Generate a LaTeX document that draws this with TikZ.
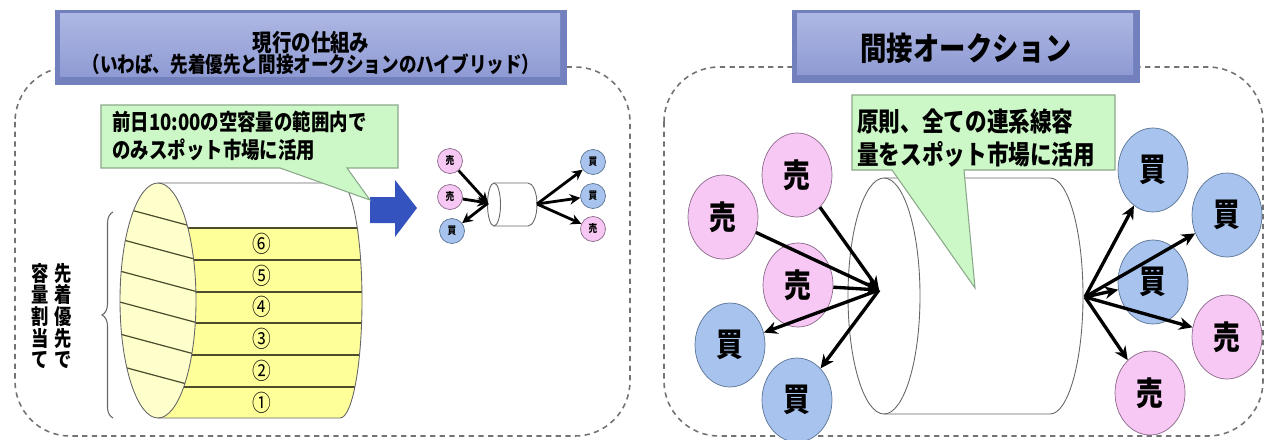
\documentclass[tikz,border=0pt]{standalone}
\usepackage{fontspec}
\setmainfont{Noto Sans CJK JP}[FakeStretch=0.82]
\usetikzlibrary{shapes.geometric,arrows.meta,decorations.pathreplacing}
\definecolor{ttledge}{HTML}{7380BE}
\definecolor{ttltop}{HTML}{AEB7E3}
\definecolor{ttlbot}{HTML}{8E9AD3}
\definecolor{urifill}{HTML}{F8C8F4}
\definecolor{uriedge}{HTML}{8B6A8B}
\definecolor{kaifill}{HTML}{A8C4EE}
\definecolor{kaiedge}{HTML}{5B7494}
\definecolor{callfill}{HTML}{CCF7C6}
\definecolor{calledge}{HTML}{8AA88A}
\definecolor{bandfill}{HTML}{FFFF99}
\definecolor{facefill}{HTML}{FFFFCC}
\definecolor{bandline}{HTML}{4D4D2E}
\definecolor{yaji}{HTML}{3553BE}
\tikzstyle{waku}=[draw=black!55,dash pattern=on 3pt off 2.5pt,line width=0.9pt,rounded corners=1.1cm]
\tikzstyle{ttlface}=[top color=ttltop,bottom color=ttlbot,draw=none]
\tikzstyle{ttltxt}=[inner sep=0pt,align=center,font=\bfseries]
\tikzstyle{fukidashi}=[fill=callfill,draw=calledge,line width=0.6pt]
\tikzstyle{setsumei}=[anchor=west,align=left,inner sep=0pt,font=\bfseries]
\tikzstyle{cyl}=[draw=black!60,line width=0.5pt]
\tikzstyle{band}=[draw=bandline,line width=0.7pt]
\tikzstyle{maru}=[inner sep=0pt,font=\fontsize{13}{13}\selectfont]
\tikzstyle{uri}=[ellipse,draw=uriedge,fill=urifill,inner sep=0pt,minimum width=1.4cm,minimum height=1.68cm,font=\fontsize{18.5}{18.5}\selectfont\bfseries]
\tikzstyle{kai}=[uri,draw=kaiedge,fill=kaifill]
\tikzstyle{suri}=[circle,draw=uriedge,fill=urifill,inner sep=0pt,minimum size=0.5cm,font=\fontsize{6}{6}\selectfont\bfseries]
\tikzstyle{skai}=[suri,draw=kaiedge,fill=kaifill]
\tikzstyle{ya}=[-{Stealth[length=2.7mm,width=2.5mm]},line width=1.9pt]
\tikzstyle{sya}=[-{Stealth[length=2.1mm,width=2.1mm]},line width=1.6pt]
\tikzstyle{tate}=[align=center,inner sep=0pt,font=\fontsize{12}{12.3}\selectfont\bfseries]
\newcommand\marunum[1]{\ifcase#1\or ①\or ②\or ③\or ④\or ⑤\or ⑥\fi}

\begin{document}
\begin{tikzpicture}[x=0.02cm,y=-0.02cm]
\useasboundingbox (0,0) rectangle (1266,439);
% frames
\draw[waku] (15,67) rectangle (630,436);
\draw[waku] (664,67) rectangle (1263,436);
% titles
\fill[ttledge] (55,10) rectangle (567,85);
\shade[ttlface] (60,14) rectangle (560,77);
\node[ttltxt] (ttlL) at (311,53)
  {{\fontsize{13.5}{16}\selectfont 現行の仕組み}\\[-1pt]{\fontsize{12.2}{14}\selectfont （いわば、先着優先と間接オークションのハイブリッド）}};
\fill[ttledge] (792,10) rectangle (1140,83);
\shade[ttlface] (797,14) rectangle (1133,75);
\node[ttltxt,font=\fontsize{18.3}{18.3}\selectfont\bfseries] (ttlR) at (966,48) {間接オークション};

% --- left: first come first served
\begin{scope}
\clip (158,183) -- (340,183) arc[start angle=-90,end angle=90,x radius=22,y radius=117.5] -- (158,418) -- cycle;
\fill[bandfill] (150,228) rectangle (370,418);
\foreach \y in {228,260,292,323,355,387} \draw[band] (150,\y) -- (370,\y);
\end{scope}
\fill[facefill] (158,300.5) ellipse[x radius=38,y radius=117.5];
\begin{scope}
\clip (158,300.5) ellipse[x radius=38,y radius=117.5];
\foreach \y in {228,260,292,323,355,387} \draw[band] (116,\y-22) -- (198,\y);
\end{scope}
\draw[cyl] (158,300.5) ellipse[x radius=38,y radius=117.5];
\draw[cyl] (158,183) -- (340,183) arc[start angle=-90,end angle=90,x radius=22,y radius=117.5] -- (158,418);
\foreach \n/\y in {1/403,2/371,3/339,4/307,5/276,6/244}
  \node[maru] (m\n) at (262,\y) {\marunum{\n}};
\draw[black!60,line width=0.6pt,decorate,decoration={brace,amplitude=0.22cm}] (113,418) -- (113,212);
\node[tate] (tate1) at (63,316) {先\\着\\優\\先\\で};
\node[tate] (tate2) at (40,316) {容\\量\\割\\当\\て};

% blue arrow
\fill[yaji] (370,197) -- (395,197) -- (395,180) -- (417,208) -- (395,237) -- (395,223) -- (370,223) -- cycle;

% small auction
\draw[cyl,fill=white] (494,183) -- (528,183) arc[start angle=-90,end angle=90,x radius=9,y radius=21.5] -- (494,226);
\draw[cyl,fill=white] (494,204.5) ellipse[x radius=6.5,y radius=21.5];
\node[suri] (ls1) at (450,161) {売};
\node[suri] (ls2) at (450,197) {売};
\node[skai] (lb1) at (452,231) {買};
\node[skai] (rb1) at (593,162) {買};
\node[skai] (rb2) at (593,196) {買};
\node[suri] (rs1) at (593,229) {売};
\coordinate (shL) at (488,203);
\coordinate (shR) at (537,204);
\draw[sya] (ls1) -- (shL);
\draw[sya] (ls2) -- (shL);
\draw[sya] (shL) -- (lb1);
\draw[sya] (shR) -- (rb1);
\draw[sya] (shR) -- (rb2);
\draw[sya] (shR) -- (rs1);

% callout
\draw[fukidashi] (101,105) -- (398,105) -- (398,168) -- (347,168) -- (370,200) -- (280,168) -- (101,168) -- cycle;
\node[setsumei,font=\fontsize{12.8}{16}\selectfont\bfseries] (cL) at (112,136) {前日10:00の空容量の範囲内で\\のみスポット市場に活用};

% --- right: implicit auction
\draw[cyl] (884,178) -- (1050,178) arc[start angle=-90,end angle=90,x radius=33,y radius=118] -- (884,414);
\draw[cyl] (884,296) ellipse[x radius=36,y radius=118];
\node[uri] (uL1) at (797,175) {売};
\node[uri] (uL2) at (723,217) {売};
\node[uri] (uL3) at (798,285) {売};
\node[kai] (kL1) at (730,345) {買};
\node[kai] (kL2) at (797,400) {買};
\node[kai] (kR1) at (1153,170) {買};
\node[kai] (kR2) at (1227,215) {買};
\node[kai] (kR3) at (1153,282) {買};
\node[uri] (uR1) at (1227,337) {売};
\node[uri] (uR2) at (1150,393) {売};
\coordinate (hubL) at (879,290);
\coordinate (hubR) at (1085,297);
\draw[ya] (uL1) -- (hubL);
\draw[ya] (uL2) -- (hubL);
\draw[ya] (uL3) -- (hubL);
\draw[ya] (hubL) -- (kL1);
\draw[ya] (hubL) -- (kL2);
\draw[ya] (hubR) -- (kR1);
\draw[ya] (hubR) -- (kR2);
\draw[ya] (hubR) -- (kR3);
\draw[ya] (hubR) -- (uR1);
\draw[ya] (hubR) -- (uR2);

\draw[fukidashi] (852,95) -- (1115,95) -- (1115,170) -- (964,170) -- (975,288) -- (892,170) -- (852,170) -- cycle;
\node[setsumei,font=\fontsize{15}{18.5}\selectfont\bfseries] (cR) at (857,138) {原則、全ての連系線容\\量をスポット市場に活用};
\end{tikzpicture}
\end{document}
